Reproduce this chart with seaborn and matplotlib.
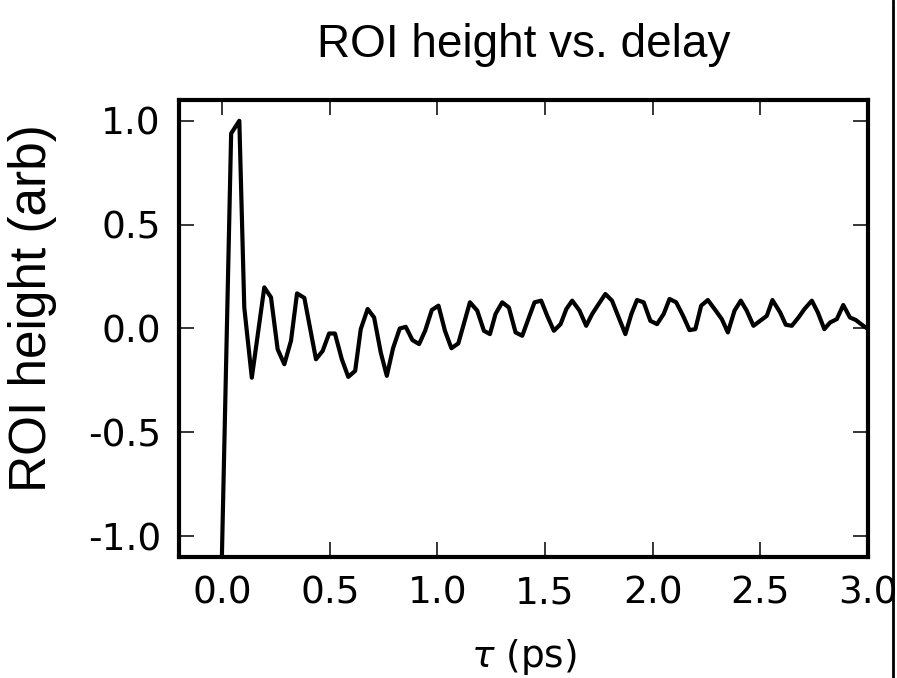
import matplotlib
matplotlib.use("Agg")
import matplotlib.pyplot as plt
from matplotlib.lines import Line2D
import seaborn as sns
import pandas as pd

delays = [-0.02, 0.042, 0.080, 0.103, 0.138, 0.196, 0.227, 0.258, 0.289, 0.320,
          0.348, 0.382, 0.436, 0.467, 0.497, 0.524, 0.556, 0.586, 0.618, 0.644,
          0.676, 0.706, 0.737, 0.765, 0.794, 0.825, 0.853, 0.884, 0.915, 0.943,
          0.974, 1.005, 1.035, 1.065, 1.097, 1.151, 1.185, 1.216, 1.244, 1.270,
          1.301, 1.332, 1.363, 1.394, 1.425, 1.451, 1.482, 1.510, 1.541, 1.572,
          1.599, 1.626, 1.660, 1.691, 1.719, 1.749, 1.780, 1.811, 1.842, 1.873,
          1.901, 1.927, 1.958, 1.989, 2.020, 2.051, 2.078, 2.109, 2.141, 2.171,
          2.198, 2.225, 2.256, 2.287, 2.321, 2.349, 2.380, 2.409, 2.436, 2.468,
          2.499, 2.530, 2.556, 2.592, 2.618, 2.646, 2.677, 2.705, 2.739, 2.767,
          2.797, 2.824, 2.855, 2.885, 2.916, 2.943, 2.978, 3.010]

roi_height = [-2.0, 0.939, 1.0, 0.101, -0.237, 0.198, 0.150, -0.100, -0.172, -0.059,
              0.169, 0.147, -0.148, -0.108, -0.024, -0.024, -0.148, -0.233, -0.204, -0.003,
              0.094, 0.053, -0.116, -0.228, -0.095, 0.0, 0.008, -0.056, -0.075, -0.011,
              0.089, 0.110, -0.011, -0.095, -0.072, 0.126, 0.086, -0.011, -0.027, 0.070,
              0.126, 0.101, -0.019, -0.035, 0.053, 0.126, 0.134, 0.061, -0.011, 0.021,
              0.094, 0.134, 0.086, 0.013, 0.070, 0.118, 0.166, 0.134, 0.053, -0.027,
              0.070, 0.137, 0.126, 0.037, 0.021, 0.070, 0.142, 0.126, 0.061, -0.008,
              -0.003, 0.110, 0.137, 0.094, 0.045, -0.019, 0.086, 0.134, 0.087, 0.013,
              0.037, 0.061, 0.137, 0.077, 0.018, 0.013, 0.053, 0.094, 0.134, 0.077,
              -0.003, 0.029, 0.045, 0.113, 0.053, 0.041, 0.013, -0.01]

x_ticks = [0.0, 0.5, 1.0, 1.5, 2.0, 2.5, 3.0]
y_ticks = [-1.0, -0.5, 0.0, 0.5, 1.0]

sns.set_style("ticks")
plt.rcParams["font.family"] = ["DejaVu Sans"]
plt.rcParams["axes.unicode_minus"] = False
plt.rcParams["mathtext.fontset"] = "dejavusans"
plt.rcParams["text.color"] = "black"
plt.rcParams["axes.labelcolor"] = "black"

df = pd.DataFrame({"delay": delays, "height": roi_height})

fig = plt.figure(figsize=(8.97, 6.78), dpi=100)
ax = fig.add_axes([0.1996, 0.1785, 0.7681, 0.674])

sns.lineplot(data=df, x="delay", y="height", ax=ax, color="black",
             linewidth=3.0, estimator=None, sort=False)

ax.set_xlim(-0.2, 3.0)
ax.set_ylim(-1.1, 1.1)
ax.set_xticks(x_ticks)
ax.set_yticks(y_ticks)
ax.set_xticklabels([f"{v:.1f}" for v in x_ticks])
ax.set_yticklabels([f"{v:.1f}" for v in y_ticks])

for s in ax.spines.values():
    s.set_visible(True)
    s.set_linewidth(3.0)
    s.set_color("black")

ax.tick_params(direction="in", length=10.5, width=1.1, top=True, right=True,
               labelsize=27, pad=13, colors="black")

ax.set_title("ROI height vs. delay", fontsize=33, family="Liberation Sans",
             pad=31, color="black")
ax.set_ylabel("ROI height (arb)", fontsize=37, family="Liberation Sans",
              labelpad=22, color="black")
ax.yaxis.label.set_y(0.545)
ax.set_xlabel(r"$\tau$ (ps)", fontsize=27, labelpad=19, color="black")

fig.add_artist(Line2D([893 / 897, 893 / 897], [0, 1], color="black",
                      linewidth=2.0, transform=fig.transFigure))

fig.savefig("out.png", dpi=100)
